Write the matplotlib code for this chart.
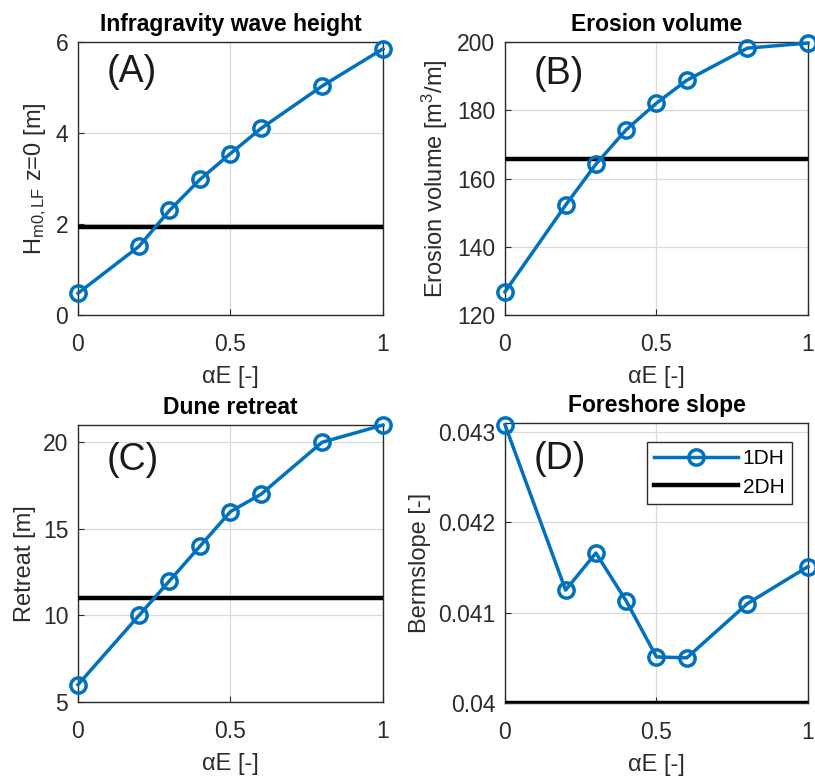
import numpy as np
import matplotlib.pyplot as plt

plt.rcParams['font.family'] = ['Liberation Sans', 'DejaVu Sans']
plt.rcParams['mathtext.fontset'] = 'custom'
plt.rcParams['mathtext.rm'] = 'Liberation Sans'
plt.rcParams['mathtext.it'] = 'Liberation Sans:italic'

# data
alpha_e = [0, 0.2, 0.3, 0.4, 0.5, 0.6, 0.8, 1.0]
hm0_1dh = [0.48, 1.51, 2.30, 2.98, 3.55, 4.10, 5.03, 5.85]
hm0_2dh = 1.94
erosion_1dh = [126.8, 152.2, 164.2, 174.3, 182.1, 188.8, 198.2, 199.7]
erosion_2dh = 165.6
retreat_1dh = [6.0, 10.0, 12.0, 14.0, 16.0, 17.0, 20.0, 21.0]
retreat_2dh = 11.0
slope_1dh = [0.04308, 0.04125, 0.04166, 0.04113, 0.04051, 0.04050, 0.04110, 0.04151]
slope_2dh = 0.04

blue = '#0072BD'
grey = '#2b2b2b'

fig = plt.figure(figsize=(8.15, 7.78), dpi=100)

panels = [
    ([0.0957, 0.595, 0.3742, 0.351], hm0_1dh, hm0_2dh, 'Infragravity wave height',
     'H$_{\\mathrm{m0,LF}}$ z=0 [m]', (0, 6), [0, 2, 4, 6], ['0', '2', '4', '6'],
     '(A)', 0.955),
    ([0.6196, 0.595, 0.3718, 0.351], erosion_1dh, erosion_2dh, 'Erosion volume',
     'Erosion volume [m$^{3}$/m]', (120, 200), [120, 140, 160, 180, 200],
     ['120', '140', '160', '180', '200'], '(B)', 0.95),
    ([0.0957, 0.0977, 0.3742, 0.356], retreat_1dh, retreat_2dh, 'Dune retreat',
     'Retreat [m]', (5, 21), [5, 10, 15, 20], ['5', '10', '15', '20'], '(C)', 0.94),
    ([0.6196, 0.0964, 0.3718, 0.360], slope_1dh, slope_2dh, 'Foreshore slope',
     'Bermslope [-]', (0.04, 0.0431), [0.040, 0.041, 0.042, 0.043],
     ['0.04', '0.041', '0.042', '0.043'], '(D)', 0.935),
]

for i, (pos, y1, y2, title, ylab, ylim, yt, ytl, tag, ty) in enumerate(panels):
    ax = fig.add_axes(pos)
    l1, = ax.plot(alpha_e, y1, color=blue, lw=2.5, marker='o', ms=11, mfc='none',
                  mew=2.5, clip_on=False, zorder=4, label='1DH')
    l2 = ax.axhline(y2, color='black', lw=3.2, zorder=3, label='2DH')
    ax.set_xlim(0, 1)
    ax.set_ylim(*ylim)
    ax.set_xticks([0, 0.5, 1])
    ax.set_xticklabels(['0', '0.5', '1'])
    ax.set_yticks(yt)
    ax.set_yticklabels(ytl)
    ax.grid(True, color='#d9d9d9', lw=0.9)
    ax.set_axisbelow(True)
    ax.tick_params(direction='in', length=4, colors=grey, labelsize=16.5)
    ax.tick_params(axis='x', pad=13)
    ax.tick_params(axis='y', pad=7)
    for s in ax.spines.values():
        s.set_color(grey)
        s.set_linewidth(1.0)
    ax.set_title(title, fontsize=16.5, fontweight='bold', pad=8)
    ax.set_xlabel('αE [-]', fontsize=17, color=grey, labelpad=7)
    ax.set_ylabel(ylab, fontsize=17, color=grey, labelpad=5)
    ax.text(0.095, ty, tag, transform=ax.transAxes, fontsize=27, va='top', color='#1a1a1a')
    if i == 3:
        ax.legend(handles=[l1, l2], loc='upper right', fontsize=15, frameon=True,
                  fancybox=False, edgecolor=grey, framealpha=1, borderpad=0.35,
                  handlelength=4.0, handletextpad=0.25, labelspacing=0.45,
                  borderaxespad=0, bbox_to_anchor=(0.947, 0.932))

plt.savefig('out.png', dpi=100)
